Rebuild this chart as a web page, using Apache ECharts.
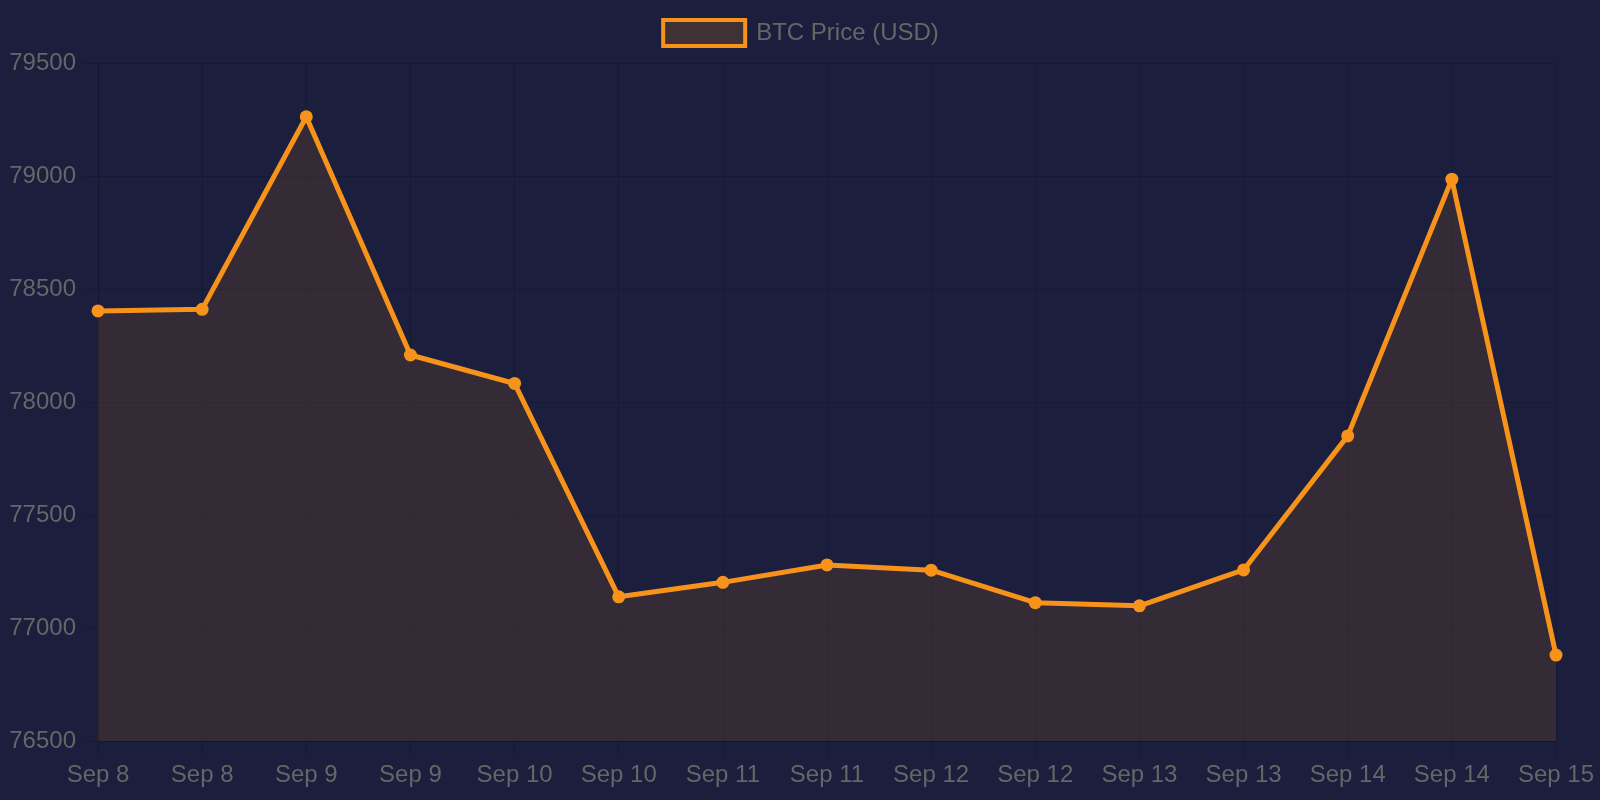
<!DOCTYPE html>
<html>
<head>
    <meta charset="utf-8">
    <title>BTC Price</title>
    <script src="https://cdn.jsdelivr.net/npm/echarts@6/dist/echarts.min.js"></script>
    <style>
        html, body { margin: 0; padding: 0; background: #1b1e3c; }
    </style>
</head>
<body>
    <div id="main" style="width: 1600px; height: 800px;"></div>
    <script type="text/javascript">
        var categories = ['Sep 8', 'Sep 8', 'Sep 9', 'Sep 9', 'Sep 10', 'Sep 10', 'Sep 11', 'Sep 11',
            'Sep 12', 'Sep 12', 'Sep 13', 'Sep 13', 'Sep 14', 'Sep 14', 'Sep 15'];
        var prices = [78403, 78410, 79262, 78208, 78082, 77138, 77202, 77279,
            77256, 77112, 77098, 77257, 77850, 78986, 76880];
        var seriesName = 'BTC Price (USD)';

        var ORANGE = '#f7931a';
        var FILL = 'rgba(247,147,26,0.17)';
        var GRID = 'rgba(0,0,0,0.12)';
        var TEXT = '#666666';
        var FONT = '"Liberation Sans", Arial, sans-serif';

        var myChart = echarts.init(document.getElementById('main'));

        var option = {
            backgroundColor: '#1b1e3c',
            animation: false,
            legend: {
                top: 13,
                left: 'center',
                icon: 'rect',
                itemWidth: 82,
                itemHeight: 26,
                itemStyle: { color: FILL, borderColor: ORANGE, borderWidth: 4 },
                textStyle: { color: TEXT, fontSize: 24, fontFamily: FONT, padding: [0, 0, 0, 6] },
                data: [seriesName]
            },
            grid: { left: 98, right: 44, top: 63, bottom: 59 },
            xAxis: {
                type: 'category',
                boundaryGap: false,
                data: categories,
                axisLine: { show: true, lineStyle: { color: GRID } },
                axisTick: { show: true, length: 17, lineStyle: { color: GRID } },
                splitLine: { show: true, lineStyle: { color: GRID } },
                axisLabel: { color: TEXT, fontSize: 24, fontFamily: FONT, margin: 22, interval: 0 }
            },
            yAxis: {
                type: 'value',
                min: 76500,
                max: 79500,
                interval: 500,
                axisLine: { show: true, lineStyle: { color: GRID } },
                axisTick: { show: true, length: 16, lineStyle: { color: GRID } },
                splitLine: { show: true, lineStyle: { color: GRID } },
                axisLabel: {
                    color: TEXT, fontSize: 24, fontFamily: FONT, margin: 22,
                    formatter: function (v) { return String(v); }
                }
            },
            series: [{
                name: seriesName,
                type: 'line',
                data: prices,
                symbol: 'circle',
                symbolSize: 13,
                showAllSymbol: true,
                lineStyle: { color: ORANGE, width: 5 },
                itemStyle: { color: ORANGE },
                areaStyle: { color: FILL, origin: 'start' }
            }]
        };

        myChart.setOption(option);
    </script>
</body>
</html>
